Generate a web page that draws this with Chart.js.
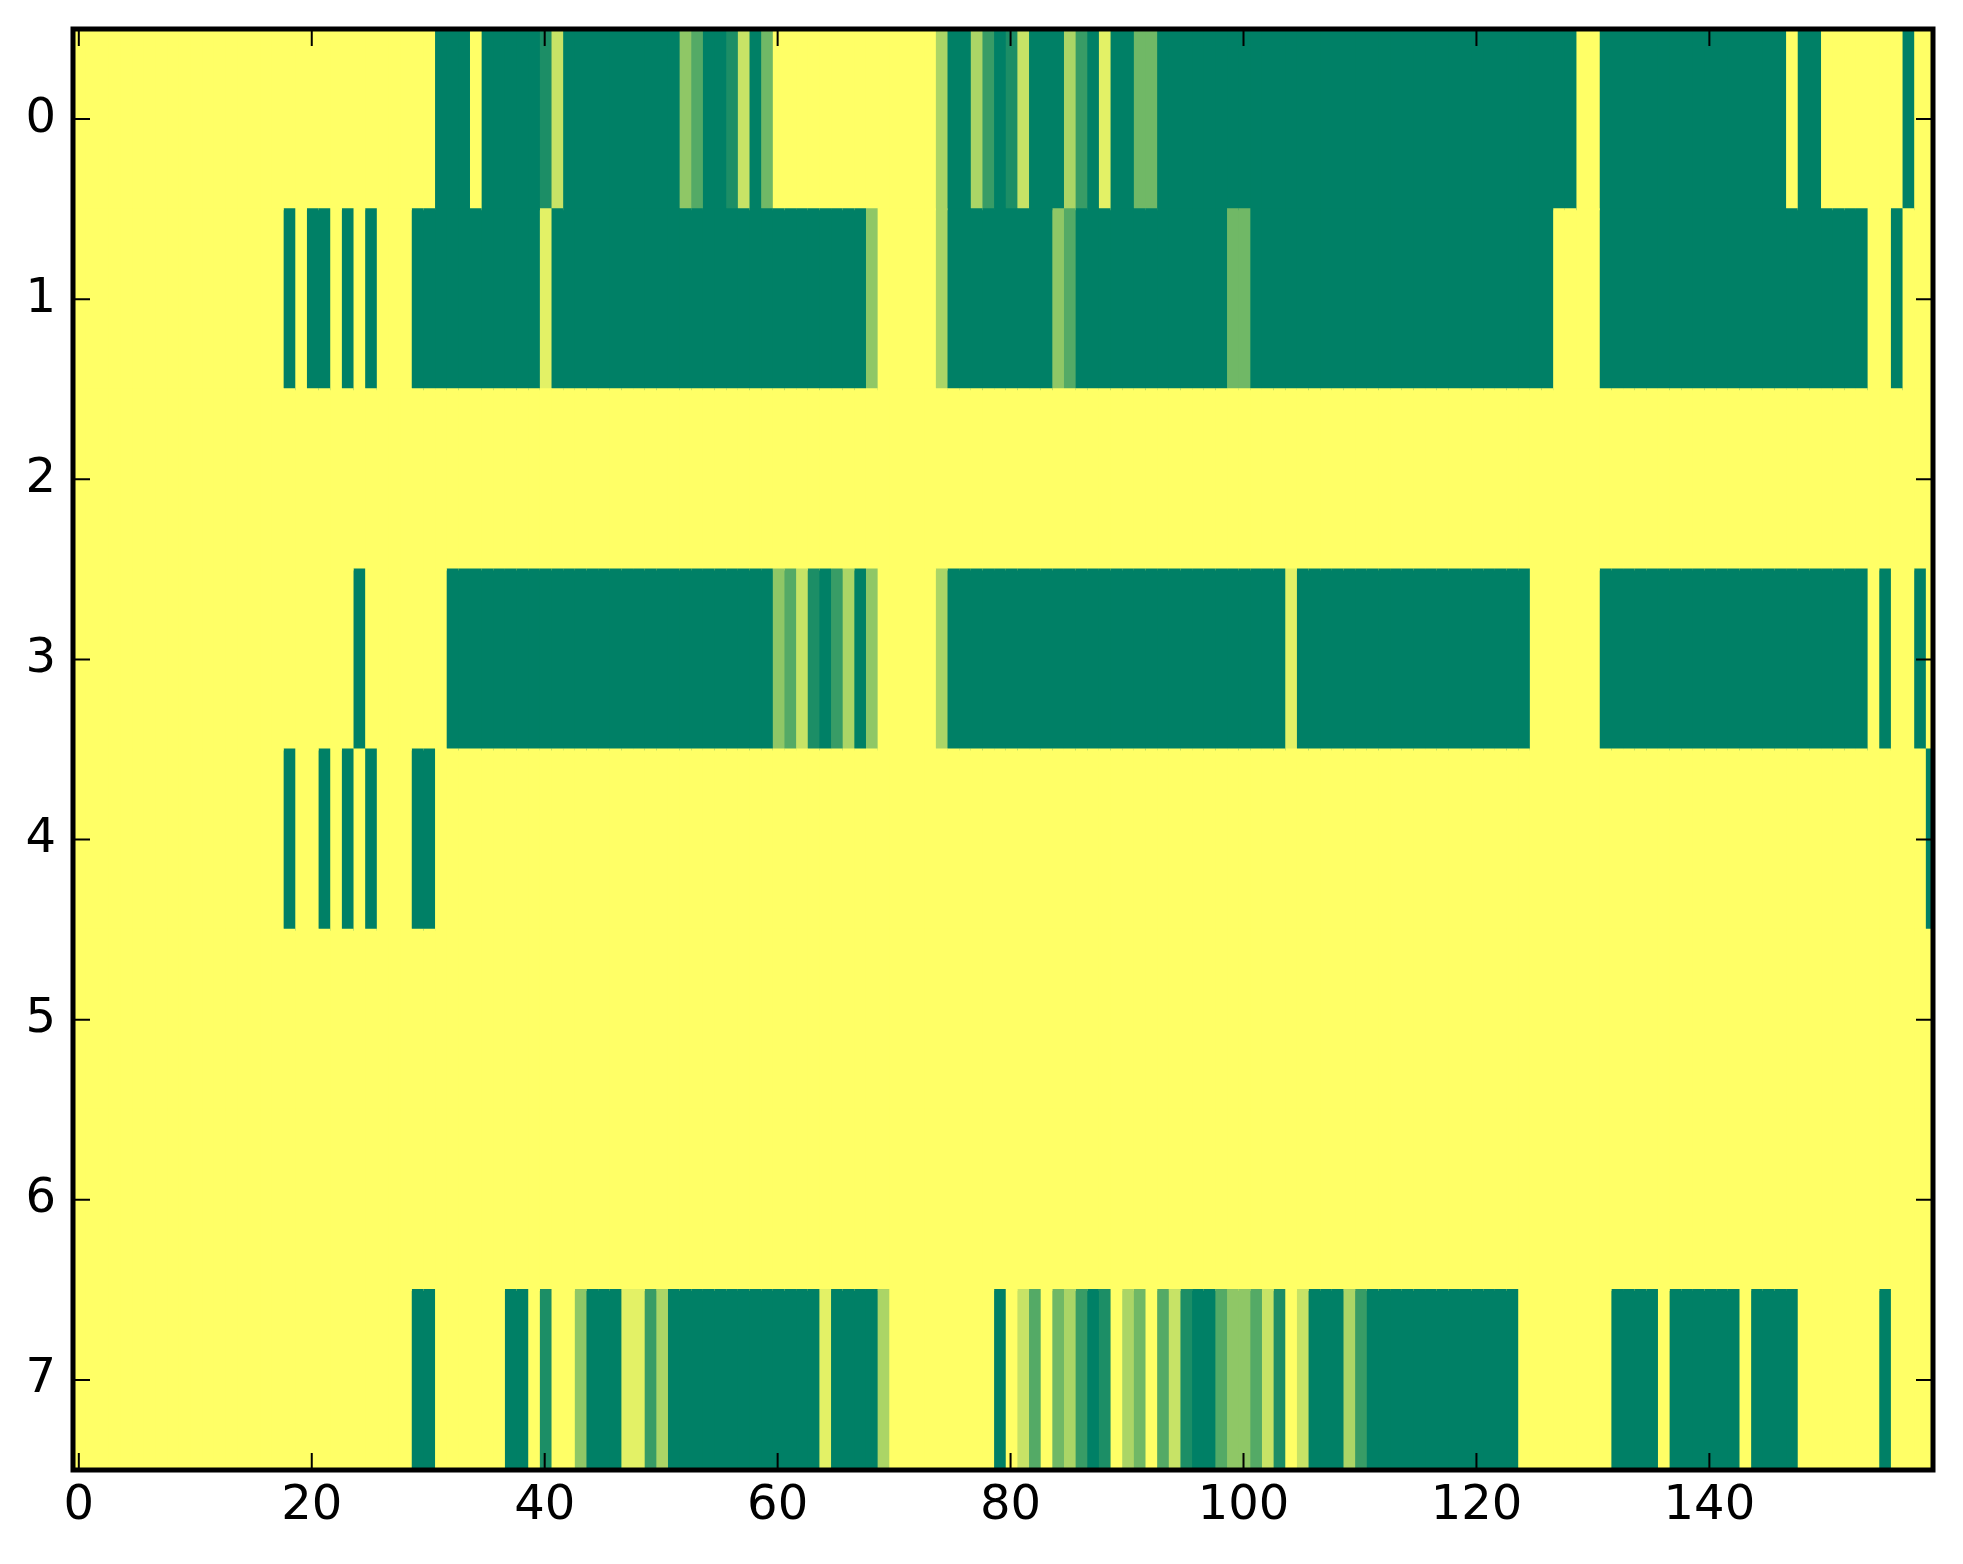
<!DOCTYPE html>
<html>
<head>
<meta charset="utf-8">
<script src="https://cdn.jsdelivr.net/npm/chart.js@4.4.0/dist/chart.umd.min.js"></script>
<style>
  html, body { margin: 0; padding: 0; background: #fff; }
  #chart { display: block; }
</style>
</head>
<body>
<canvas id="chart" width="1963" height="1564"></canvas>
<script>
// row labels (y axis) and x tick values
const rowLabels = ['0', '1', '2', '3', '4', '5', '6', '7'];
const xTicks = [0, 20, 40, 60, 80, 100, 120, 140];

// cell values per row (0 = dark green, 1 = yellow)
const row0 = [
  1,1,1,1,1,1,1,1,1,1,1,1,1,1,1,1,1,1,1,1,
  1,1,1,1,1,1,1,1,1,1,1,0,0,0,1,0,0,0,0,0,
  0.11,0.78,0,0,0,0,0,0,0,0,0,0,0.56,0.33,0,0,0.11,0.78,0,0.44,
  1,1,1,1,1,1,1,1,1,1,1,1,1,1,0.67,0,0,0.67,0.22,0,
  0.11,0.78,0,0,0,0.67,0.22,0,0.89,0,0,0.44,0.44,0,0,0,0,0,0,0,
  0,0,0,0,0,0,0,0,0,0,0,0,0,0,0,0,0,0,0,0,
  0,0,0,0,0,0,0,0,0,1,1,0,0,0,0,0,0,0,0,0,
  0,0,0,0,0,0,0,1,0,0,1,1,1,1,1,1,1,0,1,1
];
const row1 = [
  1,1,1,1,1,1,1,1,1,1,1,1,1,1,1,1,1,1,0,1,
  0,0,1,0,1,0,1,1,1,0,0,0,0,0,0,0,0,0,0,0,
  0.89,0,0,0,0,0,0,0,0,0,0,0,0,0,0,0,0,0,0,0,
  0,0,0,0,0,0,0,0,0.56,1,1,1,1,1,0.67,0,0,0,0,0,
  0,0,0,0,0.56,0.33,0,0,0,0,0,0,0,0,0,0,0,0,0,0.44,
  0.44,0,0,0,0,0,0,0,0,0,0,0,0,0,0,0,0,0,0,0,
  0,0,0,0,0,0,0,1,1,1,1,0,0,0,0,0,0,0,0,0,
  0,0,0,0,0,0,0,0,0,0,0,0,0,0,1,1,0,1,1,1
];
const row2 = [
  1,1,1,1,1,1,1,1,1,1,1,1,1,1,1,1,1,1,1,1,
  1,1,1,1,1,1,1,1,1,1,1,1,1,1,1,1,1,1,1,1,
  1,1,1,1,1,1,1,1,1,1,1,1,1,1,1,1,1,1,1,1,
  1,1,1,1,1,1,1,1,1,1,1,1,1,1,1,1,1,1,1,1,
  1,1,1,1,1,1,1,1,1,1,1,1,1,1,1,1,1,1,1,1,
  1,1,1,1,1,1,1,1,1,1,1,1,1,1,1,1,1,1,1,1,
  1,1,1,1,1,1,1,1,1,1,1,1,1,1,1,1,1,1,1,1,
  1,1,1,1,1,1,1,1,1,1,1,1,1,1,1,1,1,1,1,1
];
const row3 = [
  1,1,1,1,1,1,1,1,1,1,1,1,1,1,1,1,1,1,1,1,
  1,1,1,1,0,1,1,1,1,1,1,1,0,0,0,0,0,0,0,0,
  0,0,0,0,0,0,0,0,0,0,0,0,0,0,0,0,0,0,0,0,
  0.56,0.33,0.78,0.11,0,0.22,0.67,0,0.56,1,1,1,1,1,0.67,0,0,0,0,0,
  0,0,0,0,0,0,0,0,0,0,0,0,0,0,0,0,0,0,0,0,
  0,0,0,0,0.89,0,0,0,0,0,0,0,0,0,0,0,0,0,0,0,
  0,0,0,0,0,1,1,1,1,1,1,0,0,0,0,0,0,0,0,0,
  0,0,0,0,0,0,0,0,0,0,0,0,0,0,1,0,1,1,0,1
];
const row4 = [
  1,1,1,1,1,1,1,1,1,1,1,1,1,1,1,1,1,1,0,1,
  1,0,1,0,1,0,1,1,1,0,0,1,1,1,1,1,1,1,1,1,
  1,1,1,1,1,1,1,1,1,1,1,1,1,1,1,1,1,1,1,1,
  1,1,1,1,1,1,1,1,1,1,1,1,1,1,1,1,1,1,1,1,
  1,1,1,1,1,1,1,1,1,1,1,1,1,1,1,1,1,1,1,1,
  1,1,1,1,1,1,1,1,1,1,1,1,1,1,1,1,1,1,1,1,
  1,1,1,1,1,1,1,1,1,1,1,1,1,1,1,1,1,1,1,1,
  1,1,1,1,1,1,1,1,1,1,1,1,1,1,1,1,1,1,1,0
];
const row5 = [
  1,1,1,1,1,1,1,1,1,1,1,1,1,1,1,1,1,1,1,1,
  1,1,1,1,1,1,1,1,1,1,1,1,1,1,1,1,1,1,1,1,
  1,1,1,1,1,1,1,1,1,1,1,1,1,1,1,1,1,1,1,1,
  1,1,1,1,1,1,1,1,1,1,1,1,1,1,1,1,1,1,1,1,
  1,1,1,1,1,1,1,1,1,1,1,1,1,1,1,1,1,1,1,1,
  1,1,1,1,1,1,1,1,1,1,1,1,1,1,1,1,1,1,1,1,
  1,1,1,1,1,1,1,1,1,1,1,1,1,1,1,1,1,1,1,1,
  1,1,1,1,1,1,1,1,1,1,1,1,1,1,1,1,1,1,1,1
];
const row6 = [
  1,1,1,1,1,1,1,1,1,1,1,1,1,1,1,1,1,1,1,1,
  1,1,1,1,1,1,1,1,1,1,1,1,1,1,1,1,1,1,1,1,
  1,1,1,1,1,1,1,1,1,1,1,1,1,1,1,1,1,1,1,1,
  1,1,1,1,1,1,1,1,1,1,1,1,1,1,1,1,1,1,1,1,
  1,1,1,1,1,1,1,1,1,1,1,1,1,1,1,1,1,1,1,1,
  1,1,1,1,1,1,1,1,1,1,1,1,1,1,1,1,1,1,1,1,
  1,1,1,1,1,1,1,1,1,1,1,1,1,1,1,1,1,1,1,1,
  1,1,1,1,1,1,1,1,1,1,1,1,1,1,1,1,1,1,1,1
];
const row7 = [
  1,1,1,1,1,1,1,1,1,1,1,1,1,1,1,1,1,1,1,1,
  1,1,1,1,1,1,1,1,1,0,0,1,1,1,1,1,1,0,0,1,
  0.11,1,1,0.56,0,0,0,0.89,0.89,0.22,0.67,0,0,0,0,0,0,0,0,0,
  0,0,0,0,0.89,0,0,0,0,0.67,1,1,1,1,1,1,1,1,1,0,
  1,0.78,0.33,1,0.44,0.67,0.22,0,0.11,1,0.67,0.44,1,0.33,0.78,0.11,0,0,0.33,0.56,
  0.56,0.33,0.78,0.11,1,0.78,0,0,0,0.67,0.22,0,0,0,0,0,0,0,0,0,
  0,0,0,0,1,1,1,1,1,1,1,1,0,0,0,0,1,0,0,0,
  0,0,0,1,0,0,0,0,1,1,1,1,1,1,1,0,1,1,1,1
];

const rows = [row0, row1, row2, row3, row4, row5, row6, row7];
const xMin = -0.5;
const xMax = 159.2;

// matplotlib "summer" colormap: (v, 0.5 + v/2, 0.4)
function summer(v) {
  return 'rgb(' + Math.round(255 * v) + ',' + Math.round(255 * (0.5 + 0.5 * v)) + ',102)';
}

// one dataset per column, each cell is a floating bar spanning its column
const datasets = [];
for (let c = 0; c < row0.length; c++) {
  datasets.push({
    data: rows.map(() => [c - 0.5, c + 0.5]),
    backgroundColor: rows.map(r => summer(r[c])),
    borderWidth: 0,
    grouped: false,
    barPercentage: 1,
    categoryPercentage: 1,
    inflateAmount: 1,
    clip: 0
  });
}

// inward ticks on all four sides + black frame, like matplotlib classic
const frameTicks = {
  id: 'frameTicks',
  afterDatasetsDraw(chart) {
    const { ctx, chartArea: a, scales: { x, y } } = chart;
    const len = 17;
    ctx.save();
    ctx.strokeStyle = '#000';
    ctx.lineWidth = 2;
    ctx.beginPath();
    xTicks.forEach(v => {
      const px = x.getPixelForValue(v);
      ctx.moveTo(px, a.bottom); ctx.lineTo(px, a.bottom - len);
      ctx.moveTo(px, a.top); ctx.lineTo(px, a.top + len);
    });
    rowLabels.forEach((l, i) => {
      const py = y.getPixelForValue(i);
      ctx.moveTo(a.left, py); ctx.lineTo(a.left + len, py);
      ctx.moveTo(a.right, py); ctx.lineTo(a.right - len, py);
    });
    ctx.stroke();
    ctx.lineWidth = 5;
    ctx.strokeRect(a.left, a.top, a.right - a.left, a.bottom - a.top);
    ctx.restore();
  }
};

new Chart(document.getElementById('chart'), {
  type: 'bar',
  data: { labels: rowLabels, datasets: datasets },
  options: {
    indexAxis: 'y',
    responsive: false,
    animation: false,
    events: [],
    layout: { padding: { top: 29, right: 30, left: 0, bottom: 0 } },
    plugins: { legend: { display: false }, tooltip: { enabled: false } },
    scales: {
      x: {
        type: 'linear',
        min: xMin,
        max: xMax,
        grid: { display: false, drawTicks: false, tickLength: 0 },
        border: { display: false },
        afterBuildTicks: s => { s.ticks = xTicks.map(v => ({ value: v })); },
        afterFit: s => { s.height = 94; s.paddingLeft = 0; s.paddingRight = 0; },
        ticks: {
          color: '#000',
          padding: 8,
          maxRotation: 0,
          font: { family: 'DejaVu Sans', size: 48 }
        }
      },
      y: {
        type: 'category',
        grid: { display: false, drawTicks: false, tickLength: 0 },
        border: { display: false },
        afterFit: s => { s.width = 73; s.paddingTop = 0; s.paddingBottom = 0; },
        ticks: {
          color: '#000',
          padding: 17,
          font: { family: 'DejaVu Sans', size: 48 }
        }
      }
    }
  },
  plugins: [frameTicks]
});
</script>
</body>
</html>
